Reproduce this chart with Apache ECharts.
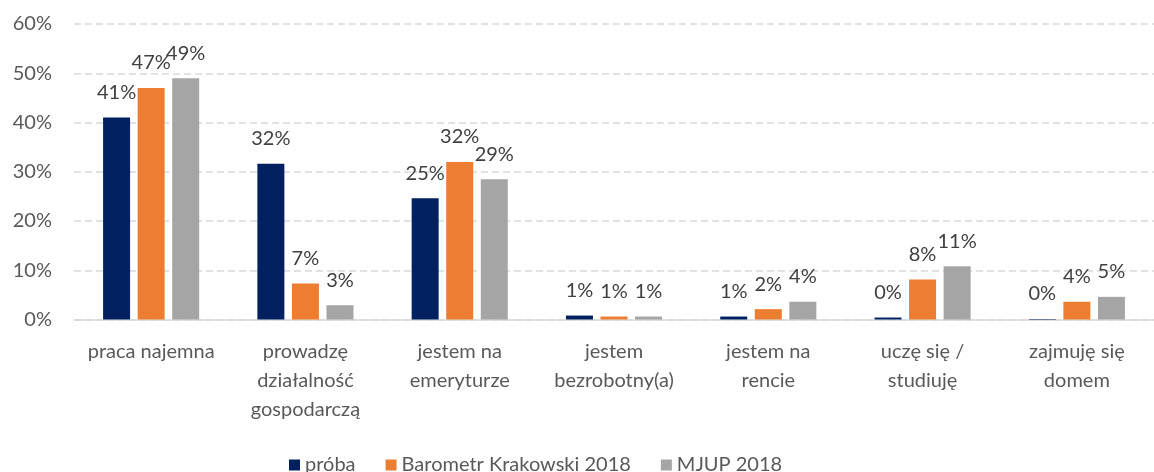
<!DOCTYPE html>
<html>
<head>
<meta charset="utf-8">
<script src="https://cdn.jsdelivr.net/npm/echarts@6/dist/echarts.min.js"></script>
<style>
  html, body { margin: 0; padding: 0; background: #fff; }
  #chart { width: 1154px; height: 472px; }
</style>
</head>
<body>
<div id="chart"></div>
<script>
const categories = [
  'praca najemna',
  'prowadzę\ndziałalność\ngospodarczą',
  'jestem na\nemeryturze',
  'jestem\nbezrobotny(a)',
  'jestem na\nrencie',
  'uczę się /\nstudiuję',
  'zajmuję się\ndomem'
]
const proba = [41.0, 31.6, 24.6, 0.8, 0.6, 0.4, 0.1]
const barometr = [47.0, 7.3, 32.0, 0.6, 2.1, 8.1, 3.6]
const mjup = [49.0, 2.9, 28.5, 0.6, 3.6, 10.8, 4.6]
const seriesNames = ['próba', 'Barometr Krakowski 2018', 'MJUP 2018']
const colors = ['#002060', '#ED7D31', '#A5A5A5']

const chart = echarts.init(document.getElementById('chart'))
const font = 'Lato, "Noto Sans", sans-serif'

// one bar series per data set
const makeSeries = (name, data, color) => ({
  name: name,
  type: 'bar',
  data: data,
  barWidth: 27,
  barGap: '28%',
  itemStyle: { color: color },
  label: {
    show: true,
    position: 'top',
    distance: 15,
    color: '#404040',
    fontSize: 20,
    fontFamily: font,
    formatter: (p) => Math.round(p.value) + '%'
  }
})

chart.setOption({
  animation: false,
  color: colors,
  legend: {
    data: seriesNames,
    left: 284,
    top: 450,
    itemWidth: 11,
    itemHeight: 11,
    itemGap: 30,
    icon: 'rect',
    textStyle: { color: '#595959', fontSize: 20, fontFamily: font }
  },
  grid: {
    left: 74,
    top: 24,
    width: 1092,
    height: 295.5
  },
  xAxis: {
    type: 'category',
    data: categories,
    axisLine: { lineStyle: { color: '#D9D9D9', width: 1.5 } },
    axisTick: { show: false },
    axisLabel: {
      interval: 0,
      margin: 18,
      color: '#595959',
      fontSize: 20,
      lineHeight: 29,
      fontFamily: font
    }
  },
  yAxis: {
    type: 'value',
    min: 0,
    max: 60,
    interval: 10,
    axisLine: { show: false },
    axisTick: { show: false },
    axisLabel: {
      margin: 22,
      color: '#595959',
      fontSize: 20,
      fontFamily: font,
      formatter: '{value}%'
    },
    splitLine: {
      lineStyle: { color: '#D9D9D9', width: 1.5, type: [7, 4] }
    }
  },
  series: [
    makeSeries(seriesNames[0], proba, colors[0]),
    makeSeries(seriesNames[1], barometr, colors[1]),
    makeSeries(seriesNames[2], mjup, colors[2])
  ]
})
</script>
</body>
</html>
